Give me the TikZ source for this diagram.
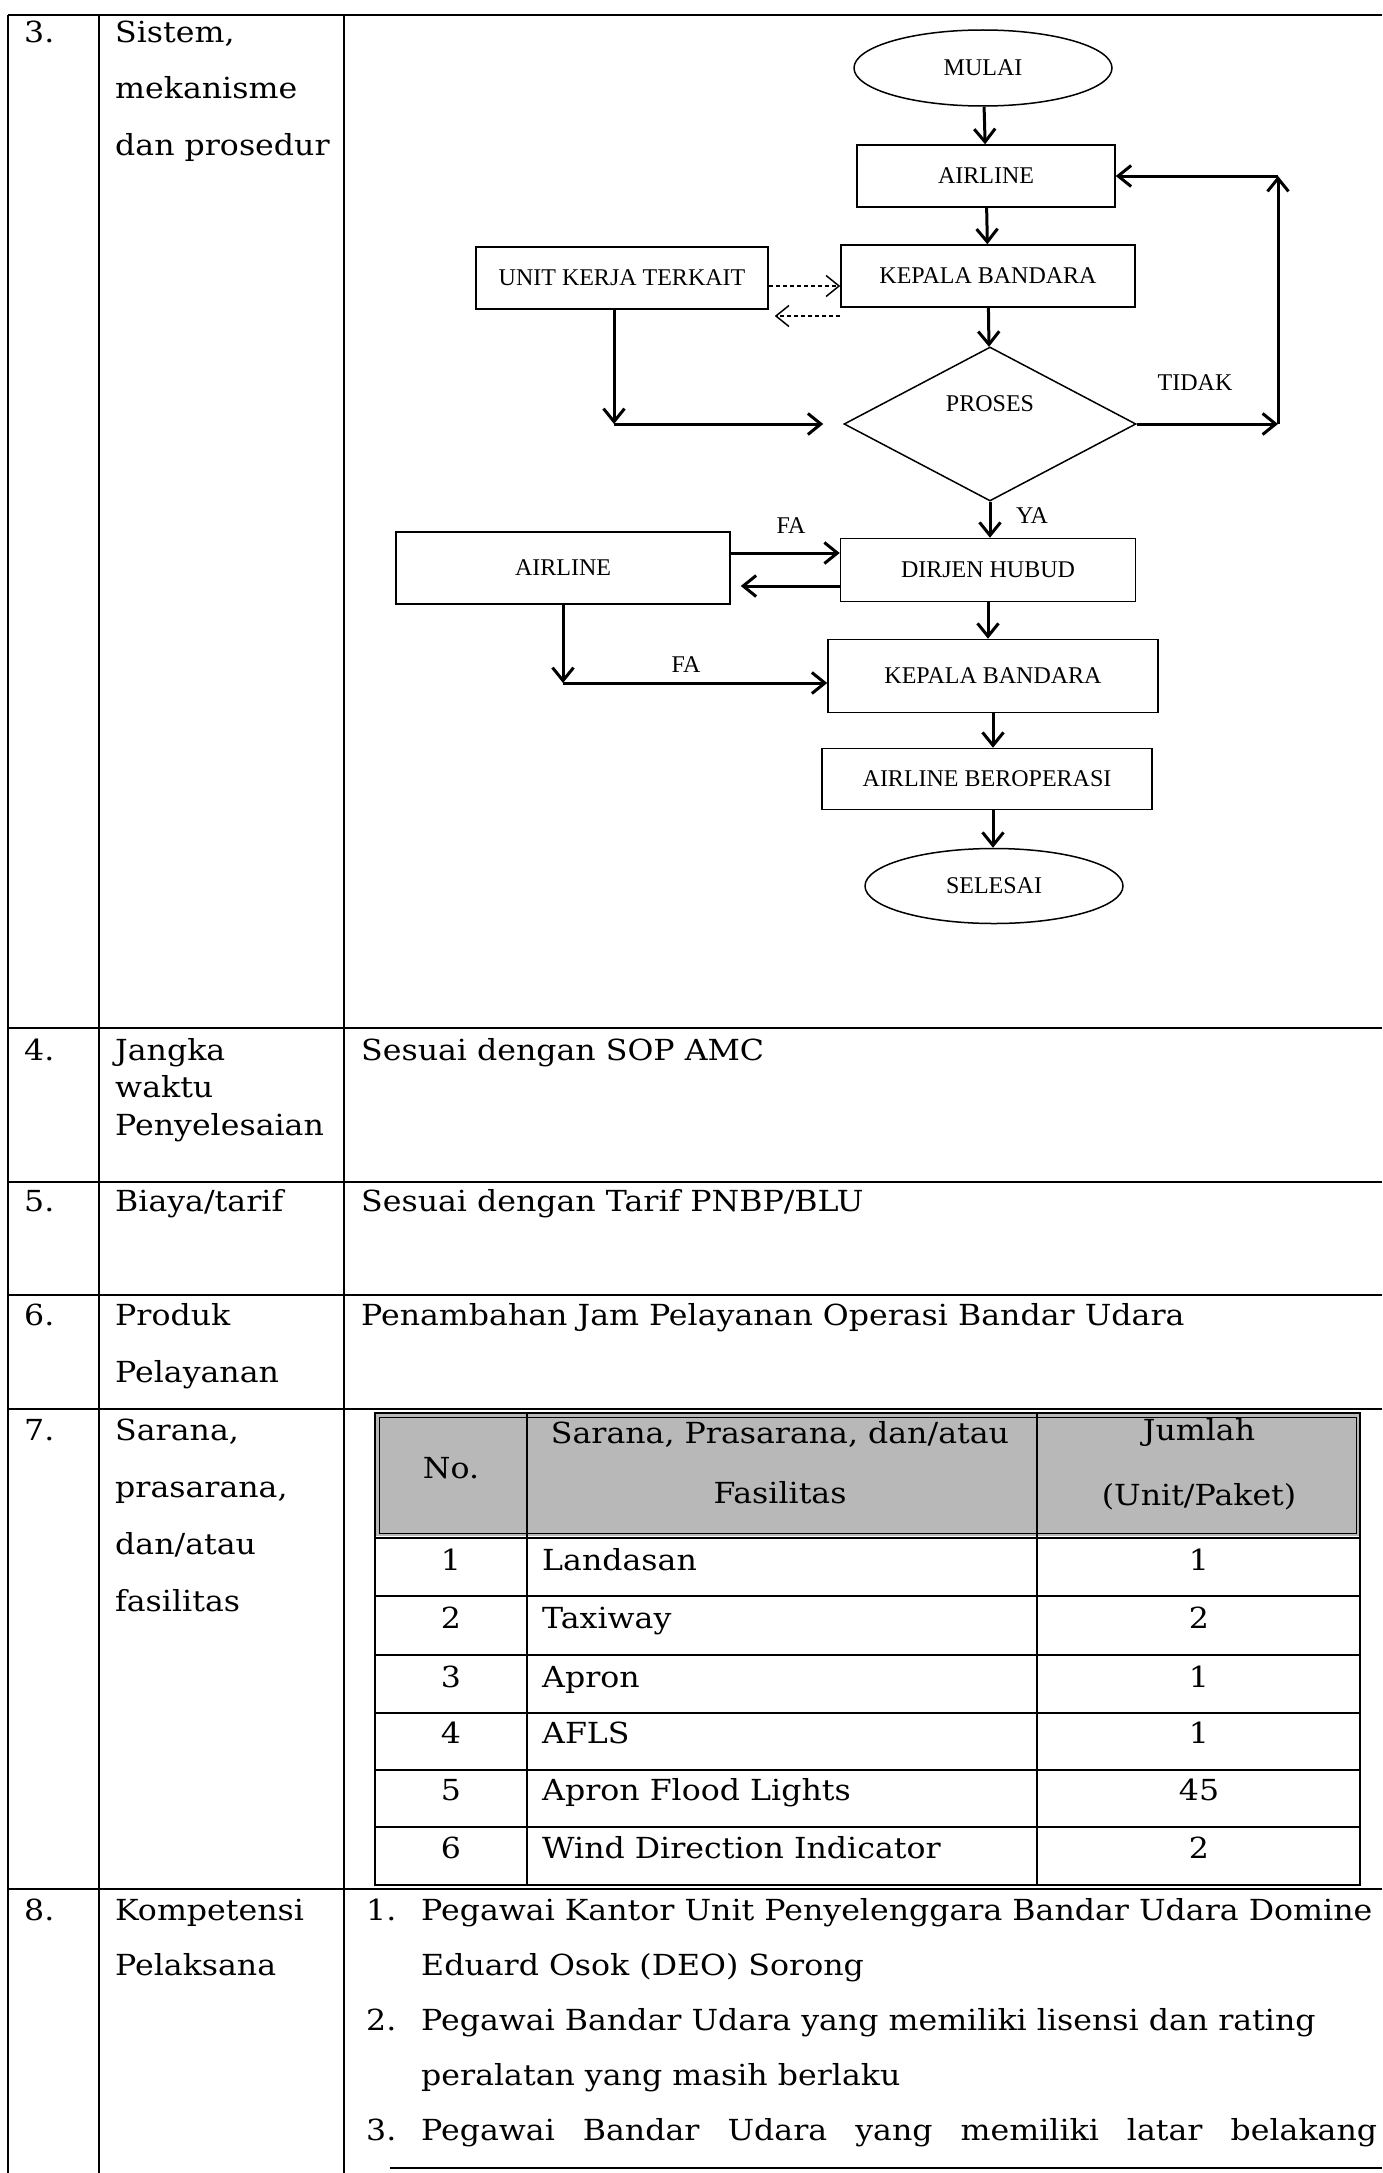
\documentclass[tikz,border=0pt]{standalone}
\usepackage{fontspec}
\setmainfont{DejaVu Serif}[FakeStretch=1.09]
\newfontfamily\flowfont{Liberation Serif}
\usetikzlibrary{shapes.geometric,arrows.meta}

\tikzset{
  >={Straight Barb[length=13pt,width=21pt]},
  rule/.style={line width=2pt},
  cell/.style={anchor=base west, inner sep=0pt, align=left, font=\fontsize{29}{56}\selectfont},
  tcell/.style={anchor=base, inner sep=0pt, align=center, font=\fontsize{29}{60}\selectfont},
  fbox/.style={draw, line width=1.5pt, inner sep=0pt, font=\flowfont\fontsize{24}{28}\selectfont},
  term/.style={fbox, ellipse},
  decision/.style={fbox, diamond},
  flabel/.style={inner sep=0pt, font=\flowfont\fontsize{24}{28}\selectfont},
  flow/.style={->, line width=3pt},
  dflow/.style={->, dash pattern=on 4pt off 3pt, line width=1.5pt}
}

\begin{document}
\begin{tikzpicture}[x=1pt, y=-1pt]
  \useasboundingbox (0,0) rectangle (1382,2173);
  \fill[white] (0,0) rectangle (1382,2173);

  % outer table
  \draw[rule] (8,15) -- (8,2173);
  \draw[rule] (99,15) -- (99,2173);
  \draw[rule] (344,15) -- (344,2173);
  \draw[rule] (8,15) -- (1382,15);
  \draw[rule] (8,1028) -- (1382,1028);
  \draw[rule] (8,1182) -- (1382,1182);
  \draw[rule] (8,1295) -- (1382,1295);
  \draw[rule] (8,1409) -- (1382,1409);
  \draw[rule] (8,1889) -- (1382,1889);
  \draw[rule] (390,2168) -- (1382,2168);

  % row 3 (multi-line cells sit on their last baseline)
  \node[cell] (no3) at (24,43) {3.};
  \node[cell] (item3) at (115,155) {Sistem,\\mekanisme\\dan prosedur};

  % flowchart
  \node[term, minimum width=258pt, minimum height=76pt] (mulai) at (983,68) {MULAI};
  \node[fbox, minimum width=258pt, minimum height=62pt] (airA) at (986,176) {AIRLINE};
  \node[fbox, minimum width=294pt, minimum height=62pt] (kepA) at (988,276) {KEPALA BANDARA};
  \node[fbox, minimum width=292pt, minimum height=62pt] (unit) at (622,278) {UNIT KERJA TERKAIT};
  \node[decision, minimum width=292pt, minimum height=154pt,
        label={[flabel, yshift=20pt]center:PROSES}] (proses) at (990,424) {};
  \node[fbox, minimum width=334pt, minimum height=72pt] (airB) at (563,568) {AIRLINE};
  \node[fbox, minimum width=295pt, minimum height=63pt] (dirjen) at (988,570) {DIRJEN HUBUD};
  \node[fbox, minimum width=330pt, minimum height=73pt] (kepB) at (993,676) {KEPALA BANDARA};
  \node[fbox, minimum width=330pt, minimum height=61pt] (oper) at (987,779) {AIRLINE BEROPERASI};
  \node[term, minimum width=258pt, minimum height=75pt] (selesai) at (994,886) {SELESAI};

  \coordinate (u1) at (614,424);
  \coordinate (t1) at (1278,424);
  \coordinate (t2) at (1278,176);
  \coordinate (f2) at (563,683);

  \draw[flow] (mulai) -- (airA);
  \draw[flow] (airA) -- (kepA);
  \draw[flow] (kepA) -- (proses);
  \draw[dflow] ([yshift=-8pt]unit.east) -- ([yshift=-10pt]kepA.west);
  \draw[dflow] ([yshift=-40pt]kepA.west) -- ([yshift=-38pt,xshift=6pt]unit.east);
  \draw[flow] (unit.south -| u1) -- (u1);
  \draw[flow, shorten >=20pt] (u1) -- (proses.west);
  \draw[flow] (proses.east) -- (t1);
  \draw[flow] (t1) -- (t2);
  \draw[flow] (t2) -- (airA.east);
  \draw[flow] (proses.south) -- (proses.south |- dirjen.north);
  \draw[flow] ([yshift=15pt]airB.east) -- ([yshift=17pt]dirjen.west);
  \draw[flow, shorten >=10pt] ([yshift=-16pt]dirjen.west) -- ([yshift=-18pt]airB.east);
  \draw[flow] (dirjen.south) -- (dirjen.south |- kepB.north);
  \draw[flow] (airB) -- (f2);
  \draw[flow] (f2) -- (kepB.west |- f2);
  \draw[flow] (kepB.south) -- (kepB.south |- oper.north);
  \draw[flow] (oper.south -| kepB.south) -- (kepB.south |- selesai.north);

  \node[flabel] (tidak) at (1195,383) {TIDAK};
  \node[flabel] (ya) at (1032,516) {YA};
  \node[flabel] (fa1) at (791,526) {FA};
  \node[flabel] (fa2) at (686,665) {FA};

  % row 4
  \node[cell] (no4) at (24,1060) {4.};
  \node[cell, font=\fontsize{29}{37.5}\selectfont] (item4) at (115,1135) {Jangka\\waktu\\Penyelesaian};
  \node[cell] (isi4) at (361,1060) {Sesuai dengan SOP AMC};

  % row 5
  \node[cell] (no5) at (24,1211) {5.};
  \node[cell] (item5) at (115,1211) {Biaya/tarif};
  \node[cell] (isi5) at (361,1211) {Sesuai dengan Tarif PNBP/BLU};

  % row 6
  \node[cell] (no6) at (24,1325) {6.};
  \node[cell, font=\fontsize{29}{57}\selectfont] (item6) at (115,1382) {Produk\\Pelayanan};
  \node[cell] (isi6) at (361,1325) {Penambahan Jam Pelayanan Operasi Bandar Udara};

  % row 7
  \node[cell] (no7) at (24,1440) {7.};
  \node[cell, font=\fontsize{29}{57}\selectfont] (item7) at (115,1611) {Sarana,\\prasarana,\\dan/atau\\fasilitas};

  % inner table
  \fill[black!28] (375,1413) rectangle (1360,1536);
  \draw[rule] (375,1413) rectangle (1360,1885);
  \draw[line width=1pt] (379,1417) rectangle (1356,1533);
  \draw[rule] (375,1538) -- (1360,1538);
  \draw[rule] (527,1413) -- (527,1885);
  \draw[rule] (1037,1413) -- (1037,1885);
  \draw[rule] (375,1596) -- (1360,1596);
  \draw[rule] (375,1655) -- (1360,1655);
  \draw[rule] (375,1713) -- (1360,1713);
  \draw[rule] (375,1770) -- (1360,1770);
  \draw[rule] (375,1827) -- (1360,1827);

  \node[inner sep=0pt, font=\fontsize{29}{34}\selectfont] (hno) at (451,1468) {No.};
  \node[tcell] (hsar) at (780,1503) {Sarana, Prasarana, dan/atau\\Fasilitas};
  \node[tcell, font=\fontsize{29}{65}\selectfont] (hjml) at (1199,1505) {Jumlah\\(Unit/Paket)};

  \node[tcell] (n1) at (451,1570) {1};
  \node[cell] (s1) at (542,1570) {Landasan};
  \node[tcell] (j1) at (1199,1570) {1};
  \node[tcell] (n2) at (451,1628) {2};
  \node[cell] (s2) at (542,1628) {Taxiway};
  \node[tcell] (j2) at (1199,1628) {2};
  \node[tcell] (n3) at (451,1687) {3};
  \node[cell] (s3) at (542,1687) {Apron};
  \node[tcell] (j3) at (1199,1687) {1};
  \node[tcell] (n4) at (451,1743) {4};
  \node[cell] (s4) at (542,1743) {AFLS};
  \node[tcell] (j4) at (1199,1743) {1};
  \node[tcell] (n5) at (451,1800) {5};
  \node[cell] (s5) at (542,1800) {Apron Flood Lights};
  \node[tcell] (j5) at (1199,1800) {45};
  \node[tcell] (n6) at (451,1858) {6};
  \node[cell] (s6) at (542,1858) {Wind Direction Indicator};
  \node[tcell] (j6) at (1199,1858) {2};

  % row 8
  \node[cell] (no8) at (24,1920) {8.};
  \node[cell, font=\fontsize{29}{55}\selectfont] (item8) at (115,1975) {Kompetensi\\Pelaksana};
  \node[cell] (k1) at (366,1920) {1.};
  \node[cell, font=\fontsize{29}{55}\selectfont] (kt1) at (421,1975) {Pegawai Kantor Unit Penyelenggara Bandar Udara Domine\\Eduard Osok (DEO) Sorong};
  \node[cell] (k2) at (366,2030) {2.};
  \node[cell, font=\fontsize{29}{55}\selectfont] (kt2) at (421,2085) {Pegawai Bandar Udara yang memiliki lisensi dan rating\\peralatan yang masih berlaku};
  \node[cell] (k3) at (366,2140) {3.};
  \node[cell] (kt3) at (421,2140) {\makebox[956pt][s]{Pegawai Bandar Udara yang memiliki latar belakang}};
\end{tikzpicture}
\end{document}
